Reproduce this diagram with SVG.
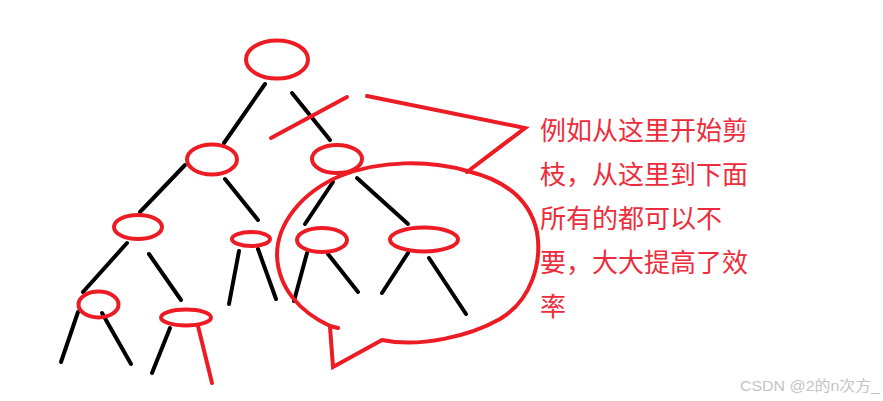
<svg xmlns="http://www.w3.org/2000/svg" width="883" height="401" viewBox="0 0 883 401">
<style>
.e{fill:none;stroke:#ed1c24;stroke-width:4}
.k{stroke:#000;stroke-width:4;stroke-linecap:round}
.r{fill:none;stroke:#ed1c24;stroke-width:4;stroke-linecap:round;stroke-linejoin:miter}
.t{font-family:"Noto Sans CJK SC","Noto Sans",sans-serif;font-size:26px;fill:#ee2c3c}
.w{font-family:"Liberation Sans","Noto Sans CJK SC",sans-serif;font-size:15px;fill:#c4c4c4}
</style>
<rect width="883" height="401" fill="#fff"/>
<g id="connectors">
<line class="k" x1="265" y1="84" x2="224" y2="143"/>
<line class="k" x1="292" y1="93" x2="330" y2="140"/>
<line class="k" x1="185" y1="165" x2="140" y2="212"/>
<line class="k" x1="225" y1="179" x2="258" y2="220"/>
<line class="k" x1="333" y1="182" x2="305" y2="224"/>
<line class="k" x1="357" y1="178" x2="408" y2="224"/>
<line class="k" x1="127" y1="243" x2="83" y2="292"/>
<line class="k" x1="149" y1="254" x2="181" y2="300"/>
<line class="k" x1="239" y1="251" x2="229" y2="304"/>
<line class="k" x1="258" y1="249" x2="276" y2="299"/>
<line class="k" x1="307" y1="253" x2="294" y2="301"/>
<line class="k" x1="328" y1="254" x2="358" y2="292"/>
<line class="k" x1="408" y1="253" x2="382" y2="293"/>
<line class="k" x1="429" y1="258" x2="466" y2="314"/>
<line class="k" x1="78" y1="312" x2="61" y2="362"/>
<line class="k" x1="102" y1="313" x2="131" y2="364"/>
<line class="k" x1="170" y1="328" x2="152" y2="373"/>
<line class="r" x1="198" y1="326" x2="212" y2="383"/>
</g>
<g id="n-root"><ellipse class="e" cx="277" cy="59.5" rx="31" ry="19"/></g>
<g id="n-l2a"><ellipse class="e" cx="212" cy="159.5" rx="25" ry="15"/></g>
<g id="n-l2b"><ellipse class="e" cx="337" cy="159" rx="25" ry="14"/></g>
<g id="n-l3a"><ellipse class="e" cx="138" cy="227" rx="24" ry="12"/></g>
<g id="n-l3b"><ellipse class="e" cx="251" cy="239" rx="19" ry="7"/></g>
<g id="n-l3c"><ellipse class="e" cx="322" cy="240" rx="25" ry="12"/></g>
<g id="n-l3d"><ellipse class="e" cx="424" cy="239.5" rx="34" ry="12"/></g>
<g id="n-l4a"><ellipse class="e" cx="98.5" cy="304.5" rx="20" ry="13"/></g>
<g id="n-l4b"><ellipse class="e" cx="186" cy="317.5" rx="25" ry="8"/></g>
<g id="annotation">
<line class="r" x1="271" y1="138" x2="347" y2="97"/>
<polyline class="r" points="367,96 525,128 467,172"/>
<path class="r" d="M382,340 C420,348 470,336 500,319 C532,300 542,262 537,232 C530,200 505,180 467,171 C430,160 380,160 340,176 C300,193 277,225 277,255 C278,288 300,312 330,326 L338,328 M330,327 L333,367 L382,340"/>
<text class="t" x="540" y="139.5">例如从这里开始剪</text>
<text class="t" x="540" y="183.5">枝，从这里到下面</text>
<text class="t" x="540" y="227.5">所有的都可以不</text>
<text class="t" x="540" y="271.5">要，大大提高了效</text>
<text class="t" x="540" y="315.5">率</text>
</g>
<text class="w" x="740" y="391" textLength="140" lengthAdjust="spacingAndGlyphs">CSDN @2的n次方_</text>
</svg>
